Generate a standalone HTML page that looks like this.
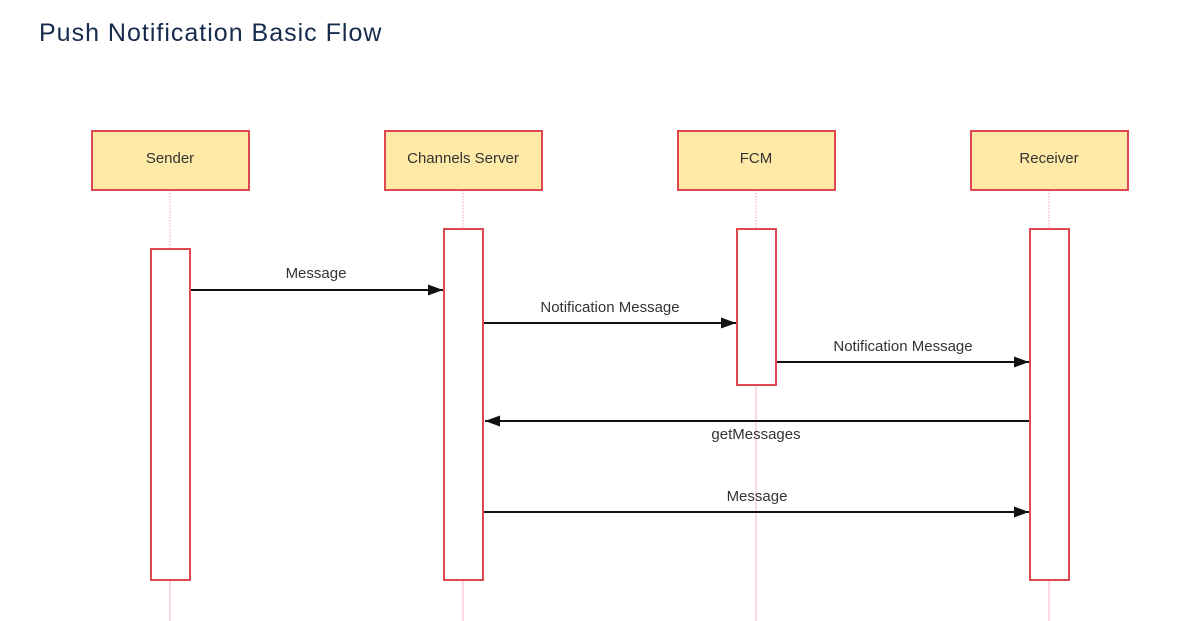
<!DOCTYPE html>
<html><head><meta charset="utf-8"><style>
html,body{margin:0;padding:0;background:#fff;width:1195px;height:621px;overflow:hidden}
.t{position:absolute;left:39px;top:19px;font-family:"Liberation Sans",sans-serif;font-size:25px;letter-spacing:1px;color:#172b4d}
svg{position:absolute;left:0;top:0}
</style></head><body>
<div class="t">Push Notification Basic Flow</div>
<svg width="1195" height="621" viewBox="0 0 1195 621" font-family="Liberation Sans, sans-serif">
<defs><marker id="a" markerWidth="15" markerHeight="11" refX="15" refY="5.5" orient="auto" markerUnits="userSpaceOnUse"><path d="M0,0 L15,5.5 L0,11 z" fill="#111"/></marker></defs>
<g stroke="#f3a0a8" stroke-width="1" stroke-dasharray="1.5,1.5">
<line x1="170" y1="190" x2="170" y2="249"/><line x1="463" y1="190" x2="463" y2="229"/>
<line x1="756" y1="190" x2="756" y2="229"/><line x1="1049" y1="190" x2="1049" y2="229"/>
</g>
<g stroke="#f5b5bb" stroke-width="1">
<line x1="170" y1="580" x2="170" y2="621"/><line x1="463" y1="580" x2="463" y2="621"/>
<line x1="756" y1="385" x2="756" y2="621"/><line x1="1049" y1="580" x2="1049" y2="621"/>
</g>
<g fill="#ffe9a6" stroke="#e0484f" stroke-width="2">
<rect x="92" y="131" width="157" height="59"/><rect x="385" y="131" width="157" height="59"/>
<rect x="678" y="131" width="157" height="59"/><rect x="971" y="131" width="157" height="59"/>
</g>
<g fill="#fff" fill-opacity="0" stroke="#e0484f" stroke-width="2">
<rect x="151" y="249" width="39" height="331"/><rect x="444" y="229" width="39" height="351"/>
<rect x="737" y="229" width="39" height="156"/><rect x="1030" y="229" width="39" height="351"/>
</g>
<g font-size="15" fill="#333" text-anchor="middle">
<text x="170" y="163">Sender</text><text x="463" y="163">Channels Server</text>
<text x="756" y="163">FCM</text><text x="1049" y="163">Receiver</text>
</g>
<g stroke="#111" stroke-width="2" marker-end="url(#a)">
<line x1="191" y1="290" x2="443" y2="290"/><line x1="484" y1="323" x2="736" y2="323"/>
<line x1="777" y1="362" x2="1029" y2="362"/><line x1="1029" y1="421" x2="485" y2="421"/>
<line x1="484" y1="512" x2="1029" y2="512"/>
</g>
<g font-size="15" fill="#333" text-anchor="middle">
<text x="316" y="278">Message</text><text x="610" y="312">Notification Message</text>
<text x="903" y="351">Notification Message</text><text x="756" y="439">getMessages</text>
<text x="757" y="501">Message</text>
</g>
</svg>
</body></html>
